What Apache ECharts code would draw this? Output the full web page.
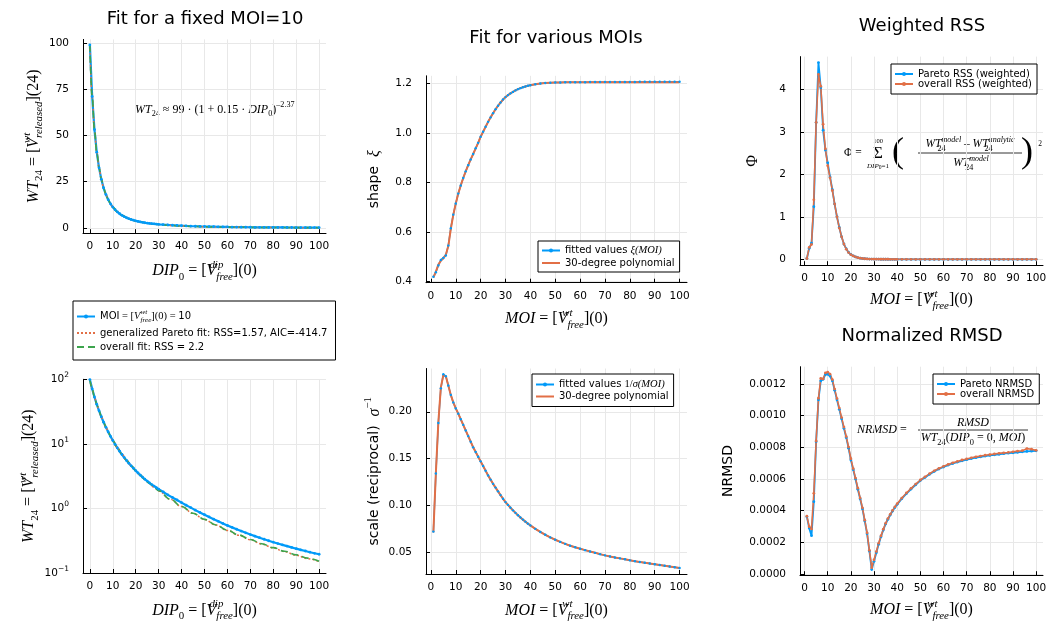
<!DOCTYPE html>
<html><head><meta charset="utf-8">
<script src="https://cdn.jsdelivr.net/npm/echarts@6/dist/echarts.min.js"></script>
<style>html,body{margin:0;padding:0;background:#fff}#c{width:1056px;height:623px}</style>
</head><body><div id="c"></div>
<script>
// ---------------- data ----------------
const dipX = [0,1,2,3,4,5,6,7,8,9,10,11,12,13,14,15,16,17,18,19,20,21,22,23,24,25,26,27,28,29,30,32,34,36,38,40,42,44,46,48,50,52,54,56,58,60,62,64,66,68,70,72,74,76,78,80,82,84,86,88,90,92,94,96,98,100];
const wtMoi10 = [99,71.1,53.2,41.0,32.5,26.3,21.6,18.06,15.28,13.07,11.29,9.85,8.66,7.68,6.84,6.13,5.53,5.01,4.57,4.19,3.85,3.54,3.28,3.04,2.83,2.65,2.48,2.34,2.22,2.10,1.99,
 1.80,1.62,1.48,1.35,1.23,1.12,1.03,0.941,0.867,0.801,0.738,0.682,0.631,0.586,0.544,0.509,0.476,0.446,0.419,0.394,0.372,0.352,0.333,0.316,0.300,0.286,0.273,0.261,0.249,0.238,0.228,0.219,0.210,0.202,0.195];
const fitX = [0,1,2,3,4,5,6,7,8,9,10,12,14,16,18,20,22,24,26,28,30,35,40,45,50,55,60,65,70,75,80,85,90,95,100];
const paretoFit = [99,71.0,53.1,41.0,32.5,26.3,21.6,18.1,15.3,13.1,11.3,8.72,6.90,5.58,4.59,3.85,3.26,2.80,2.43,2.12,1.87,1.39,1.068,0.838,0.674,0.552,0.457,0.385,0.327,0.281,0.244,0.214,0.188,0.167,0.149];
const overallFit = [99,71.1,53.2,41.0,32.5,26.3,21.6,18.06,15.28,13.07,11.29,8.70,6.89,5.57,4.59,3.85,3.27,2.81,2.44,2.13,1.88,1.395,1.071,0.841,0.677,0.555,0.460,0.388,0.330,0.284,0.247,0.217,0.191,0.170,0.152];

const moiX = [1,2,3,4,5,6,7,8,9,10,11,12,13,14,15,16,17,18,19,20,21,22,23,24,25,26,27,28,29,30,31,32,33,34,35,36,37,38,39,40,42,44,46,48,50,52,54,56,58,60,62,64,66,68,70,72,74,76,78,80,82,84,86,88,90,92,94,96,98,100];
const shapeXi = [0.419,0.437,0.465,0.487,0.495,0.505,0.545,0.615,0.670,0.715,0.755,0.788,0.818,0.845,0.870,0.893,0.915,0.938,0.960,0.985,1.005,1.025,1.045,1.063,1.080,1.096,1.110,1.123,1.135,1.145,1.153,1.160,1.166,1.172,1.177,1.181,1.185,1.188,1.191,1.193,
 1.197,1.200,1.202,1.203,1.204,1.204,1.205,1.205,1.205,1.205,1.205,1.206,1.206,1.206,1.206,1.206,1.206,1.206,1.206,1.206,1.206,1.207,1.207,1.207,1.207,1.207,1.207,1.207,1.207,1.207];
const shapePoly = [0.416,0.440,0.468,0.484,0.494,0.508,0.543,0.612,0.669,0.715,0.755,0.788,0.818,0.845,0.870,0.893,0.915,0.938,0.960,0.985,1.005,1.025,1.045,1.063,1.080,1.096,1.110,1.123,1.135,1.145,1.153,1.160,1.166,1.172,1.177,1.181,1.185,1.188,1.191,1.193,
 1.197,1.200,1.202,1.203,1.204,1.204,1.205,1.205,1.205,1.205,1.205,1.205,1.205,1.205,1.205,1.205,1.205,1.205,1.205,1.205,1.205,1.205,1.205,1.205,1.205,1.205,1.205,1.205,1.205,1.205];
const scaleInv = [0.072,0.134,0.188,0.225,0.240,0.238,0.228,0.218,0.210,0.2036,0.198,0.192,0.186,0.180,0.174,0.168,0.162,0.157,0.152,0.147,0.142,0.137,0.132,0.1275,0.123,0.119,0.115,0.111,0.107,0.1035,0.1005,0.0975,0.0947,0.092,0.0895,0.087,0.0848,0.0826,0.0805,0.0786,
 0.0749,0.0716,0.0686,0.0658,0.0633,0.061,0.0589,0.0569,0.0552,0.0537,0.0522,0.0507,0.0493,0.0479,0.0466,0.0455,0.0444,0.0434,0.0424,0.0413,0.0404,0.0395,0.0387,0.0379,0.0371,0.0363,0.0355,0.0347,0.0339,0.0331];
const scalePoly = [0.071,0.135,0.189,0.226,0.239,0.238,0.228,0.218,0.210,0.2036,0.198,0.192,0.186,0.180,0.174,0.168,0.162,0.157,0.152,0.147,0.142,0.137,0.132,0.1275,0.123,0.119,0.115,0.111,0.107,0.1035,0.1005,0.0975,0.0947,0.092,0.0895,0.087,0.0848,0.0826,0.0805,0.0786,
 0.0749,0.0716,0.0686,0.0658,0.0633,0.061,0.0589,0.0569,0.0552,0.0537,0.0522,0.0507,0.0493,0.0479,0.0466,0.0455,0.0444,0.0434,0.0424,0.0413,0.0404,0.0395,0.0387,0.0379,0.0371,0.0363,0.0355,0.0347,0.0339,0.0331];
const rssPareto = [0.02,0.26,0.38,1.24,3.22,4.63,4.04,3.04,2.57,2.27,1.94,1.64,1.30,1.00,0.75,0.53,0.36,0.245,0.165,0.115,0.08,0.056,0.04,0.028,0.02,0.014,0.01,0.007,0.005,0.004,0.003,0.003,0.002,0.002,0.002,0.002,0.001,0.001,0.001,0.001,
 0.001,0.001,0.001,0.001,0.001,0.001,0.001,0.001,0.001,0.001,0.001,0.001,0.001,0.001,0.001,0.001,0.001,0.001,0.001,0.001,0.001,0.001,0.001,0.001,0.001,0.001,0.001,0.001,0.001,0.001];
const rssOverall = [0.02,0.28,0.35,1.40,3.22,4.35,4.07,3.18,2.60,2.20,1.92,1.62,1.30,1.00,0.74,0.53,0.36,0.24,0.16,0.11,0.08,0.056,0.04,0.028,0.02,0.014,0.01,0.007,0.005,0.004,0.003,0.003,0.002,0.002,0.002,0.002,0.001,0.001,0.001,0.001,
 0.001,0.001,0.001,0.001,0.001,0.001,0.001,0.001,0.001,0.001,0.001,0.001,0.001,0.001,0.001,0.001,0.001,0.001,0.001,0.001,0.001,0.001,0.001,0.001,0.001,0.001,0.001,0.001,0.001,0.001];
const nrmsdPareto = [0.000362,0.00029,0.000242,0.000457,0.000836,0.0011,0.00122,0.00123,0.00126,0.001262,0.00125,0.00122,0.00116,0.0011,0.00104,0.00098,0.00092,0.000862,0.000795,0.00072,0.00066,0.0006,0.000535,0.000475,0.000412,0.000335,0.000255,0.000145,0.000028,0.00008,0.000135,0.000188,0.000236,0.000278,0.000316,0.000346,0.000373,0.000398,0.00042,0.00044,
 0.000476,0.000508,0.000537,0.000564,0.00059,0.00061,0.00063,0.000648,0.000663,0.000676,0.000688,0.000698,0.000707,0.000715,0.000722,0.000729,0.000735,0.00074,0.000745,0.000749,0.000753,0.000756,0.00076,0.000763,0.000766,0.000769,0.000772,0.000774,0.000776,0.000778];
const nrmsdOverall = [0.000365,0.000299,0.000285,0.00051,0.00084,0.00111,0.001235,0.001232,0.00127,0.001275,0.001262,0.001228,0.001168,0.001108,0.001048,0.000988,0.000928,0.000868,0.000802,0.000728,0.000666,0.000606,0.000542,0.00048,0.000418,0.00034,0.00026,0.00015,0.00004,0.00009,0.000142,0.000194,0.000241,0.000283,0.00032,0.00035,0.000377,0.000402,0.000424,0.000444,
 0.00048,0.000512,0.000541,0.000568,0.000594,0.000614,0.000634,0.000652,0.000667,0.00068,0.000692,0.000702,0.000711,0.00072,0.000727,0.000734,0.00074,0.000745,0.00075,0.000754,0.000758,0.000762,0.000765,0.000768,0.000772,0.000776,0.000779,0.000792,0.000788,0.000781];

const ticksX = [0,10,20,30,40,50,60,70,80,90,100];
const ticksWT = [0,25,50,75,100];
const ticksShape = [0.4,0.6,0.8,1.0,1.2];
const ticksScale = [0.05,0.10,0.15,0.20];
const ticksPhi = [0,1,2,3,4];
const ticksNrmsd = [0,0.0002,0.0004,0.0006,0.0008,0.0010,0.0012];

// ---------------- styles ----------------
const SANS = 'DejaVu Sans', SERIF = 'Liberation Serif';
const BLUE = '#009af9', RED = '#e26f46', GREEN = '#3da44d';
function mathRich(fs, sc, sansFs) {
  sc = sc || 0.68;
  const lh = Math.round(fs * 1.45), sl = Math.round(fs * sc * 1.1);
  const base = {color: '#000', verticalAlign: 'middle', lineHeight: lh};
  return {
    m: Object.assign({}, base, {fontFamily: SERIF, fontStyle: 'italic', fontSize: fs}),
    r: Object.assign({}, base, {fontFamily: SERIF, fontSize: fs}),
    s: Object.assign({}, base, {fontFamily: SANS, fontSize: sansFs || fs * 0.93}),
    sp: {color: '#000', fontFamily: SERIF, fontStyle: 'italic', fontSize: fs * sc, lineHeight: sl, verticalAlign: 'top'},
    spn: {color: '#000', fontFamily: SERIF, fontSize: fs * sc, lineHeight: sl, verticalAlign: 'top'},
    spz: {color: '#000', fontFamily: SERIF, fontStyle: 'italic', fontSize: fs * sc, lineHeight: sl, verticalAlign: 'top', width: 0.01},
    sb: {color: '#000', fontFamily: SERIF, fontStyle: 'italic', fontSize: fs * sc, lineHeight: sl, verticalAlign: 'bottom'},
    sbn: {color: '#000', fontFamily: SERIF, fontSize: fs * sc, lineHeight: sl, verticalAlign: 'bottom'},
    sbz: {color: '#000', fontFamily: SERIF, fontSize: fs * sc, lineHeight: sl, verticalAlign: 'bottom', width: 0.01}
  };
}
const RNAME = mathRich(16, 0.68, 14);
const RLEG = mathRich(10.5);
RLEG.s = {fontFamily: SANS, fontSize: 10, color: '#000', lineHeight: 14, verticalAlign: 'middle'};

const NAME_DIP = '{m|DIP}{sbn|0}{r| = [}{m|V}{spz|dip}{sb|free}{r|](0)}';
const NAME_MOI = '{m|MOI}{r| = [}{m|V}{spz|wt}{sb|free}{r|](0)}';
const NAME_WT = '{m|WT}{sbn|24}{r| = [}{m|V}{spz|wt}{sb|released}{r|](24)}';

const LEG = {
  'moi10': '{s|MOI}{r| = [}{m|V}{spz|wt}{sb|free}{r|](0) = }{s|10}',
  'pareto': '{s|generalized Pareto fit: RSS=1.57, AIC=-414.7}',
  'overall': '{s|overall fit: RSS = 2.2}',
  'xi': '{s|fitted values }{m|ξ(MOI)}',
  'xipoly': '{s|30-degree polynomial}',
  'sig': '{s|fitted values }{r|1/}{m|σ(MOI)}',
  'sigpoly': '{s|30-degree polynomial}',
  'rssP': '{s|Pareto RSS (weighted)}',
  'rssO': '{s|overall RSS (weighted)}',
  'nrP': '{s|Pareto NRMSD}',
  'nrO': '{s|overall NRMSD}'
};

// ---------------- axes ----------------
const tickFont = {fontFamily: SANS, fontSize: 10.5, color: '#000'};
function xAx(gi, min, max, name, gap) {
  return {type: 'value', gridIndex: gi, min: min, max: max,
    name: name, nameLocation: 'middle', nameGap: gap, nameTextStyle: {rich: RNAME},
    axisLine: {show: true, onZero: false, lineStyle: {color: '#000', width: 1}},
    axisTick: {show: true, inside: true, length: 4, customValues: ticksX, lineStyle: {color: '#000'}},
    axisLabel: Object.assign({customValues: ticksX, margin: 8}, tickFont),
    splitLine: {show: true, lineStyle: {color: '#e8e8e8', width: 1}}};
}
function yAx(gi, min, max, ticks, fmt, name, gap) {
  return {type: 'value', gridIndex: gi, min: min, max: max,
    name: name, nameLocation: 'middle', nameGap: gap, nameTextStyle: {rich: RNAME},
    axisLine: {show: true, onZero: false, lineStyle: {color: '#000', width: 1}},
    axisTick: {show: true, inside: true, length: 4, customValues: ticks, lineStyle: {color: '#000'}},
    axisLabel: Object.assign({customValues: ticks, margin: 14, formatter: fmt}, tickFont),
    splitLine: {show: true, lineStyle: {color: '#e8e8e8', width: 1}}};
}
const supMap = {'-1': '−1', '0': '0', '1': '1', '2': '2'};
const yLog = {type: 'log', logBase: 10, gridIndex: 1, min: 0.1, max: 100,
  name: NAME_WT, nameLocation: 'middle', nameGap: 36, nameTextStyle: {rich: RNAME},
  axisLine: {show: true, onZero: false, lineStyle: {color: '#000', width: 1}},
  axisTick: {show: true, inside: true, length: 4, lineStyle: {color: '#000'}},
  axisLabel: {margin: 14, formatter: function (v) {
      const p = Math.round(Math.log10(v));
      return '{b|10}{e|' + supMap[String(p)] + '}';
    }, rich: {b: {fontFamily: SANS, fontSize: 10.5, color: '#000', lineHeight: 16, verticalAlign: 'middle'},
              e: {fontFamily: SANS, fontSize: 7.5, color: '#000', lineHeight: 8, verticalAlign: 'top'}}},
  splitLine: {show: true, lineStyle: {color: '#e8e8e8', width: 1}}};

// ---------------- series helpers ----------------
function pairs(xs, ys) { return xs.map(function (x, i) { return [x, ys[i]]; }); }
function dots(name, gi, xs, ys, color, w, ss) {
  return {type: 'line', name: name, xAxisIndex: gi, yAxisIndex: gi, data: pairs(xs, ys),
    symbol: 'circle', symbolSize: ss || 2.8, showSymbol: true, showAllSymbol: true,
    itemStyle: {color: color}, lineStyle: {color: color, width: w || 1.8}, silent: true};
}
function plain(name, gi, xs, ys, color, type, w, smooth) {
  return {type: 'line', name: name, xAxisIndex: gi, yAxisIndex: gi, data: pairs(xs, ys),
    symbol: 'none', showSymbol: false, smooth: smooth ? 0.4 : false, smoothMonotone: 'x',
    itemStyle: {color: color}, lineStyle: {color: color, width: w || 1.6, type: type || 'solid'}, silent: true};
}
function legendBox(left, top, data, pad, gap) {
  return {left: left, top: top, orient: 'vertical', selectedMode: false,
    data: data.map(function (d) {
      return typeof d === 'string' ? {name: d} : d;
    }),
    backgroundColor: '#fff', borderColor: '#000', borderWidth: 1, borderRadius: 0,
    padding: pad, itemGap: gap, itemWidth: 18, itemHeight: 5,
    textStyle: {fontFamily: SANS, fontSize: 10, color: '#000', rich: RLEG},
    formatter: function (n) { return LEG[n]; }};
}
const NOMARK = {opacity: 0};

// ---------------- chart ----------------
const chart = echarts.init(document.getElementById('c'), null, {renderer: 'canvas'});
const T = {fontFamily: SANS, fontSize: 18, fontWeight: 'normal', color: '#000', lineHeight: 18};
const mR = mathRich(11.5, 0.7);
const mS = mathRich(7, 0.8);
const mN = mathRich(12, 0.7);
const ctr = {align: 'center', verticalAlign: 'middle', textAlign: 'center', textVerticalAlign: 'middle'};
function gtext(x, y, text, rich, left) {
  const st = Object.assign({x: x, y: y, text: text, rich: rich}, ctr);
  if (left) { st.align = 'left'; st.textAlign = 'left'; }
  return {type: 'text', silent: true, style: st};
}
function gplain(x, y, text, font) {
  return {type: 'text', silent: true, style: Object.assign({x: x, y: y, text: text, font: font, fill: '#000'}, ctr)};
}
chart.setOption({
  animation: false,
  backgroundColor: '#fff',
  title: [
    {text: 'Fit for a fixed MOI=10', left: 205, top: 10, textAlign: 'center', padding: 0, textStyle: T},
    {text: 'Fit for various MOIs', left: 556, top: 29, textAlign: 'center', padding: 0, textStyle: T},
    {text: 'Weighted RSS', left: 922, top: 17, textAlign: 'center', padding: 0, textStyle: T},
    {text: 'Normalized RMSD', left: 922, top: 327, textAlign: 'center', padding: 0, textStyle: T}
  ],
  grid: [
    {left: 83, top: 39.4, width: 243, height: 193.8},
    {left: 83, top: 379.3, width: 243, height: 194},
    {left: 426, top: 75.8, width: 261, height: 206.9},
    {left: 426, top: 368.5, width: 261, height: 206.5},
    {left: 800, top: 56.6, width: 243, height: 208.6},
    {left: 800, top: 366.7, width: 243, height: 208.5}
  ],
  xAxis: [
    xAx(0, -3, 103, NAME_DIP, 26),
    xAx(1, -3, 103, NAME_DIP, 26),
    xAx(2, -1.97, 102.97, NAME_MOI, 25),
    xAx(3, -1.97, 102.97, NAME_MOI, 25),
    xAx(4, -1.97, 102.97, NAME_MOI, 23),
    xAx(5, -1.97, 102.97, NAME_MOI, 23)
  ],
  yAxis: [
    yAx(0, -2.83, 101.97, ticksWT, function (v) { return String(v); }, NAME_WT, 36),
    yLog,
    yAx(2, 0.395, 1.231, ticksShape, function (v) { return v.toFixed(1); }, '{s|shape  }{m|ξ}', 40),
    yAx(3, 0.0267, 0.2462, ticksScale, function (v) { return v.toFixed(2); }, '{s|scale (reciprocal)  }{m|σ}{spn|−1}', 40),
    yAx(4, -0.138, 4.77, ticksPhi, function (v) { return String(v); }, '{r|Φ}', 36),
    yAx(5, -0.0000073, 0.0013093, ticksNrmsd, function (v) { return v.toFixed(4); }, '{s|NRMSD}', 60)
  ],
  legend: [
    legendBox(73, 301, ['moi10', {name: 'pareto', itemStyle: NOMARK}, {name: 'overall', itemStyle: NOMARK}], [8, 8, 8, 3], 4),
    legendBox(538, 241, ['xi', {name: 'xipoly', itemStyle: NOMARK}], [4, 5, 4, 3], 2),
    legendBox(532, 374, ['sig', {name: 'sigpoly', itemStyle: NOMARK}], [5, 5, 5, 3], 1.5),
    legendBox(891, 64, ['rssP', 'rssO'], [5, 5, 5, 3], 0),
    legendBox(933, 374, ['nrP', 'nrO'], [5, 5, 5, 3], 0)
  ],
  graphic: [
    {type: 'text', left: 135, top: 101, silent: true,
      style: {text: '{m|WT}{sbn|24}{r| ≈ 99 · (1 + 0.15 · }{m|DIP}{sbn|0}{r|)}{spn|–2.37}', rich: mathRich(12)}},
    // Phi formula
    gtext(844, 153, '{r|Φ =}', mR, true),
    gplain(878, 154, 'Σ', '17px "Liberation Serif"'),
    gplain(878, 141, '100', '6.5px "Liberation Serif"'),
    gtext(878, 166, '{m|DIP}{sbn|0}{r|=1}', mS),
    gplain(898, 153, '(', '36px "Liberation Serif"'),
    gtext(970, 144, '{m|WT}{sbz|24}{sp|model}{r| – }{m|WT}{sbz|24}{sp|analytic}', mR),
    {type: 'line', silent: true, shape: {x1: 918, y1: 153, x2: 1022, y2: 153}, style: {stroke: '#000', lineWidth: 0.8}},
    gtext(971, 163, '{m|WT}{sbz|24}{sp|model}', mR),
    gplain(1027, 153, ')', '36px "Liberation Serif"'),
    gplain(1040, 144, '2', '7.5px "Liberation Serif"'),
    // NRMSD formula
    gtext(857, 430, '{m|NRMSD}{r| =}', mN, true),
    gtext(973, 423, '{m|RMSD}', mN),
    {type: 'line', silent: true, shape: {x1: 918, y1: 430, x2: 1028, y2: 430}, style: {stroke: '#000', lineWidth: 0.8}},
    gtext(973, 438, '{m|WT}{sbn|24}{r|(}{m|DIP}{sbn|0}{r| = 0, }{m|MOI}{r|)}', mN)
  ],
  series: [
    dots('moi10', 0, dipX, wtMoi10, BLUE, 2.2),
    plain('pareto', 0, fitX, paretoFit, RED, [2, 2], 1.5, true),
    plain('overall', 0, fitX, overallFit, GREEN, [7, 4], 1.6, true),
    dots('moi10_log', 1, dipX, wtMoi10, BLUE, 2.2),
    plain('pareto_log', 1, fitX, paretoFit, RED, [2, 2], 1.5, true),
    plain('overall_log', 1, fitX, overallFit, GREEN, [7, 4], 1.6, true),
    dots('xi', 2, moiX, shapeXi, BLUE, 1.5, 2.4),
    plain('xipoly', 2, moiX, shapePoly, RED, 'solid', 2, false),
    dots('sig', 3, moiX, scaleInv, BLUE, 1.5, 2.4),
    plain('sigpoly', 3, moiX, scalePoly, RED, 'solid', 2, false),
    dots('rssP', 4, moiX, rssPareto, BLUE, 1.8),
    dots('rssO', 4, moiX, rssOverall, RED, 1.6),
    dots('nrP', 5, moiX, nrmsdPareto, BLUE, 1.8),
    dots('nrO', 5, moiX, nrmsdOverall, RED, 1.6)
  ]
});
</script>
</body></html>
